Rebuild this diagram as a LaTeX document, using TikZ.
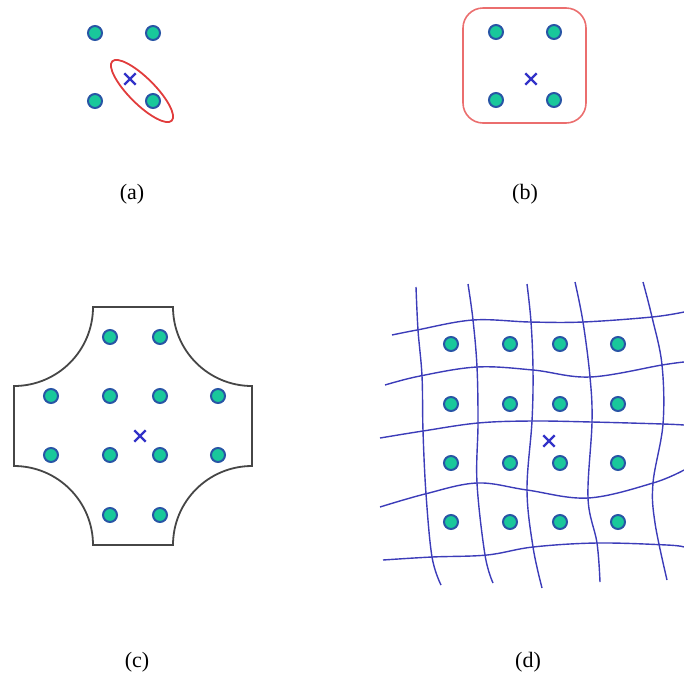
\documentclass[tikz,border=0pt]{standalone}
\usepackage{fontspec}
\setmainfont{Liberation Serif}
\usetikzlibrary{shapes.misc}
\definecolor{dotfill}{RGB}{25,200,155}
\definecolor{dotedge}{RGB}{40,85,165}
\definecolor{crossc}{RGB}{50,50,200}
\definecolor{redc}{RGB}{225,60,60}
\definecolor{boxred}{RGB}{235,110,110}
\definecolor{gridc}{RGB}{60,60,185}
\definecolor{outline}{RGB}{70,70,70}
\tikzset{
  dot/.style={circle,draw=dotedge,fill=dotfill,line width=2pt,minimum size=14pt,inner sep=0pt},
  crossmark/.style={cross out,draw=crossc,line width=2.4pt,minimum size=9pt,inner sep=0pt},
  lbl/.style={font=\fontsize{22}{26}\selectfont},
  gridline/.style={draw=gridc,line width=1.4pt},
}
\begin{document}
\begin{tikzpicture}[x=1pt,y=-1pt]
\useasboundingbox (0,0) rectangle (684,678);
% (a)
\node[dot] (a1) at (95,33) {};
\node[dot] (a2) at (153,33) {};
\node[dot] (a3) at (95,101) {};
\node[dot] (a4) at (153,101) {};
\node[crossmark] (ax) at (130,79) {};
\draw[redc,line width=1.8pt,rotate around={-45:(142,91)}] (142,91) ellipse [x radius=42pt,y radius=13pt];
\node[lbl] (la) at (132,194) {(a)};
% (b)
\draw[boxred,line width=1.6pt,rounded corners=20pt] (463,8) rectangle (586,123);
\node[dot] (b1) at (496,32) {};
\node[dot] (b2) at (554,32) {};
\node[dot] (b3) at (496,100) {};
\node[dot] (b4) at (554,100) {};
\node[crossmark] (bx) at (531,79) {};
\node[lbl] (lb) at (525,194) {(b)};
% (c)
\draw[outline,line width=1.8pt]
  (93,307) -- (173,307)
  arc[start angle=180,end angle=270,radius=79pt]
  -- (252,466)
  arc[start angle=90,end angle=180,radius=79pt]
  -- (93,545)
  arc[start angle=0,end angle=90,radius=79pt]
  -- (14,386)
  arc[start angle=270,end angle=360,radius=79pt]
  -- cycle;
\node[dot] (c1) at (110,337) {};
\node[dot] (c2) at (160,337) {};
\node[dot] (c3) at (51,396) {};
\node[dot] (c4) at (110,396) {};
\node[dot] (c5) at (160,396) {};
\node[dot] (c6) at (218,396) {};
\node[dot] (c7) at (51,455) {};
\node[dot] (c8) at (110,455) {};
\node[dot] (c9) at (160,455) {};
\node[dot] (c10) at (218,455) {};
\node[dot] (c11) at (110,515) {};
\node[dot] (c12) at (160,515) {};
\node[crossmark] (cx) at (140,436) {};
\node[lbl] (lc) at (137,662) {(c)};
% (d) grid
\draw[gridline] plot[smooth,tension=0.6] coordinates {(392,335) (417,330) (473,320) (530,322) (583,322) (652,317) (684,312)};
\draw[gridline] plot[smooth,tension=0.6] coordinates {(385,385) (420,376) (477,367) (533,370) (590,377) (662,365) (684,362)};
\draw[gridline] plot[smooth,tension=0.6] coordinates {(380,438) (423,431) (478,423) (532,421) (592,422) (663,424) (684,425)};
\draw[gridline] plot[smooth,tension=0.6] coordinates {(380,507) (425,494) (477,483) (527,490) (588,498) (653,483) (684,470)};
\draw[gridline] plot[smooth,tension=0.6] coordinates {(383,560) (432,557) (487,555) (533,547) (597,543) (667,545) (684,547)};
\draw[gridline] plot[smooth,tension=0.6] coordinates {(416,287) (418,330) (422,376) (423,431) (426,494) (432,557) (441,585)};
\draw[gridline] plot[smooth,tension=0.6] coordinates {(468,284) (473,320) (477,367) (478,423) (477,483) (485,555) (493,583)};
\draw[gridline] plot[smooth,tension=0.6] coordinates {(527,284) (531,322) (533,370) (532,421) (527,490) (533,547) (542,588)};
\draw[gridline] plot[smooth,tension=0.6] coordinates {(575,282) (583,322) (590,377) (592,422) (588,498) (597,543) (600,582)};
\draw[gridline] plot[smooth,tension=0.6] coordinates {(643,282) (652,317) (662,365) (663,424) (653,483) (655,523) (667,580)};
\foreach \i/\x in {1/451,2/510,3/560,4/618}{
  \foreach \j/\y in {1/344,2/404,3/463,4/522}{
    \node[dot] (d\j\i) at (\x,\y) {};
  }
}
\node[crossmark] (dx) at (549,441) {};
\node[lbl] (ld) at (528,662) {(d)};
\end{tikzpicture}
\end{document}
